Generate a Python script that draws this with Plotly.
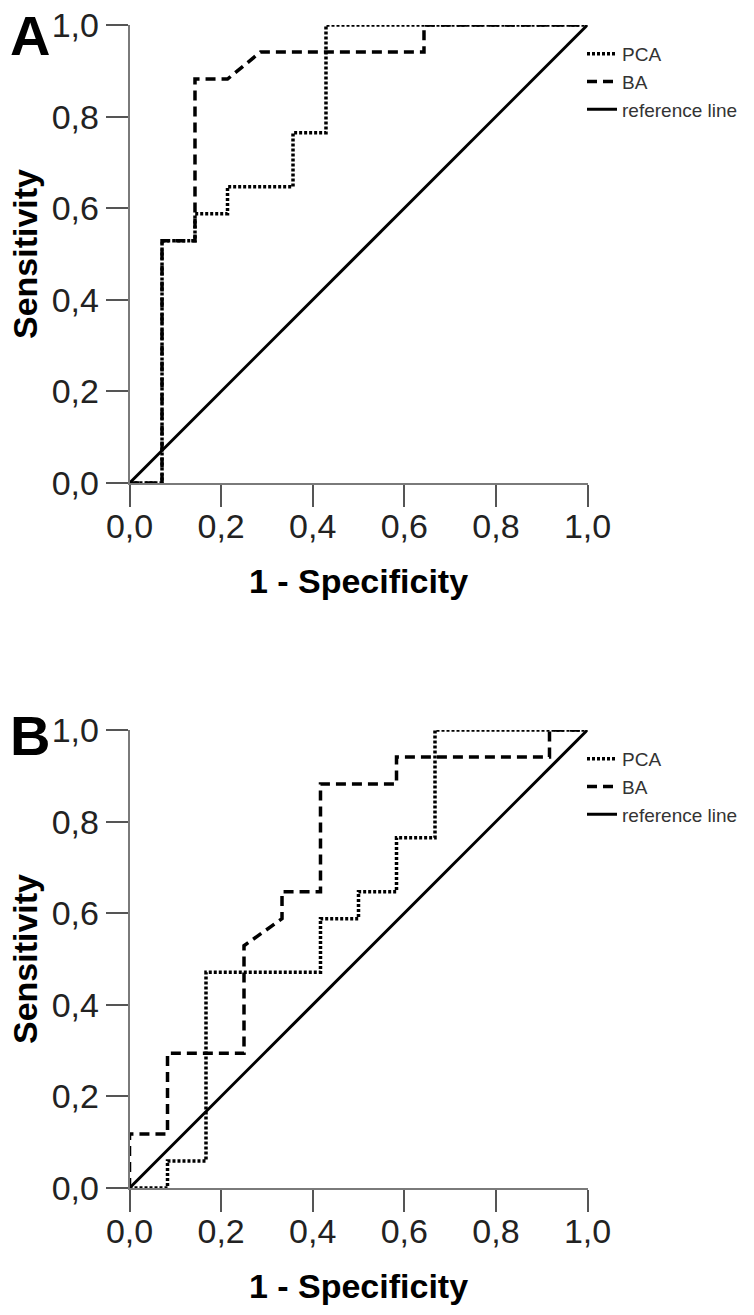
import plotly.graph_objects as go

# ---------------- data ----------------
# Panel A
A_pca_fpr = [0, 0.071, 0.071, 0.143, 0.143, 0.214, 0.214, 0.357, 0.357, 0.429, 0.429, 1.0]
A_pca_tpr = [0, 0, 0.529, 0.529, 0.588, 0.588, 0.647, 0.647, 0.765, 0.765, 1.0, 1.0]
A_ba_fpr = [0, 0.071, 0.071, 0.143, 0.143, 0.214, 0.286, 0.643, 0.643, 1.0]
A_ba_tpr = [0, 0, 0.529, 0.529, 0.882, 0.882, 0.941, 0.941, 1.0, 1.0]

# Panel B
B_pca_fpr = [0, 0.083, 0.083, 0.167, 0.167, 0.417, 0.417, 0.5, 0.5, 0.583, 0.583, 0.667, 0.667, 1.0]
B_pca_tpr = [0, 0, 0.059, 0.059, 0.471, 0.471, 0.588, 0.588, 0.647, 0.647, 0.765, 0.765, 1.0, 1.0]
B_ba_fpr = [0, 0, 0.083, 0.083, 0.25, 0.25, 0.333, 0.333, 0.417, 0.417, 0.583, 0.583, 0.917, 0.917, 1.0]
B_ba_tpr = [0, 0.118, 0.118, 0.294, 0.294, 0.529, 0.588, 0.647, 0.647, 0.882, 0.882, 0.941, 0.941, 1.0, 1.0]

ref_x = [0, 1]
ref_y = [0, 1]

series_names = ["PCA", "BA", "reference line"]
tick_vals = [0, 0.2, 0.4, 0.6, 0.8, 1.0]
panel_labels = ["A", "B"]
x_title = "1 - Specificity"
y_title = "Sensitivity"

# ---------------- figure ----------------
W, H = 754, 1315
FONT = "Liberation Sans, Arial, sans-serif"

fig = go.Figure()

dot_style = dict(color="black", width=3.5, dash="3px,2px")
dash_style = dict(color="black", width=3.5, dash="10px,6px")
solid_style = dict(color="black", width=3)

panels = [
    ("x", "y", "legend", A_pca_fpr, A_pca_tpr, A_ba_fpr, A_ba_tpr),
    ("x2", "y2", "legend2", B_pca_fpr, B_pca_tpr, B_ba_fpr, B_ba_tpr),
]
for xa, ya, lg, pf, pt, bf, bt in panels:
    fig.add_trace(go.Scatter(x=pf, y=pt, mode="lines", name=series_names[0], line=dot_style,
                             xaxis=xa, yaxis=ya, legend=lg, cliponaxis=False))
    fig.add_trace(go.Scatter(x=bf, y=bt, mode="lines", name=series_names[1], line=dash_style,
                             xaxis=xa, yaxis=ya, legend=lg, cliponaxis=False))
    fig.add_trace(go.Scatter(x=ref_x, y=ref_y, mode="lines", name=series_names[2], line=solid_style,
                             xaxis=xa, yaxis=ya, legend=lg, cliponaxis=False))


def px_x(p):
    return p / W


def px_y(p):
    return 1 - p / H


axis_common = dict(
    range=[0, 1], tickvals=tick_vals, tickformat=".1f",
    showline=True, linecolor="#7a7a7a", linewidth=1.5,
    ticks="outside", ticklen=22, tickwidth=1.5, tickcolor="#555555",
    showgrid=False, zeroline=False, mirror=False,
    tickfont=dict(family=FONT, size=34, color="#222222"),
    automargin=False, fixedrange=True,
)

x_dom = [px_x(129.5), px_x(587.5)]
yA_dom = [px_y(483), px_y(25)]
yB_dom = [px_y(1188), px_y(730)]

title_font = dict(family=FONT, size=34, color="black", weight="bold")
legend_font = dict(family=FONT, size=19, color="#333333")
label_font = dict(family=FONT, size=56, color="black", weight="bold")

fig.update_layout(
    width=W, height=H,
    margin=dict(l=0, r=0, t=0, b=0, autoexpand=False),
    paper_bgcolor="white", plot_bgcolor="white",
    separators=", ",
    showlegend=True,
    xaxis=dict(domain=x_dom, anchor="y", **axis_common, ticklabelstandoff=-10,
               title=dict(text=x_title, font=title_font, standoff=26)),
    yaxis=dict(domain=yA_dom, anchor="x", **axis_common,
               title=dict(text=y_title, font=title_font, standoff=4)),
    xaxis2=dict(domain=x_dom, anchor="y2", **axis_common, ticklabelstandoff=-10,
                title=dict(text=x_title, font=title_font, standoff=26)),
    yaxis2=dict(domain=yB_dom, anchor="x2", **axis_common,
                title=dict(text=y_title, font=title_font, standoff=4)),
    legend=dict(x=px_x(582), y=px_y(35), xanchor="left", yanchor="top",
                font=legend_font, bgcolor="rgba(0,0,0,0)", tracegroupgap=0, itemwidth=30),
    legend2=dict(x=px_x(582), y=px_y(740), xanchor="left", yanchor="top",
                 font=legend_font, bgcolor="rgba(0,0,0,0)", tracegroupgap=0, itemwidth=30),
    annotations=[
        dict(text=panel_labels[0], x=px_x(8), y=px_y(1.5), xref="paper", yref="paper",
             xanchor="left", yanchor="top", showarrow=False, font=label_font),
        dict(text=panel_labels[1], x=px_x(8), y=px_y(701.5), xref="paper", yref="paper",
             xanchor="left", yanchor="top", showarrow=False, font=label_font),
    ],
)

fig.write_html("out.html", post_script="document.body.style.margin='0';",
               config={"displayModeBar": False})
